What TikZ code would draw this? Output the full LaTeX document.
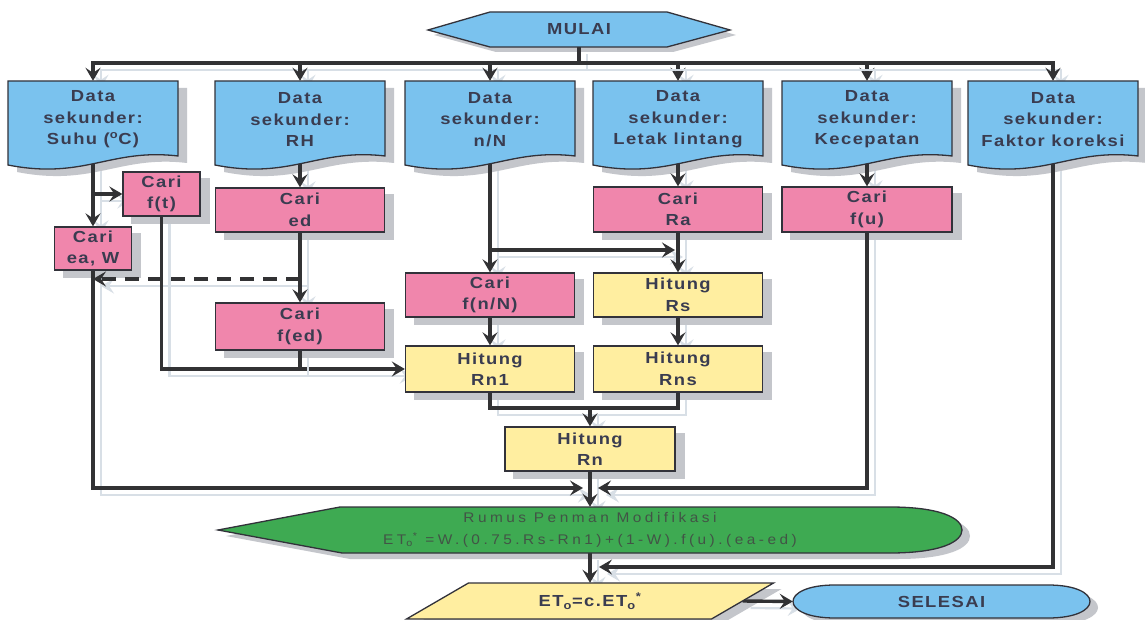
\documentclass[tikz,border=0pt]{standalone}
\usepackage{fontspec}
\setmainfont{Liberation Sans}
\newfontfamily\bxfont[FakeStretch=1.15,LetterSpace=9]{Liberation Sans}
\newfontfamily\grfont[FakeStretch=1.1,LetterSpace=25]{Liberation Sans}
\usetikzlibrary{arrows.meta,calc}
\definecolor{bluef}{RGB}{122,194,238}
\definecolor{pinkf}{RGB}{240,134,172}
\definecolor{yelf}{RGB}{255,238,160}
\definecolor{greenf}{RGB}{62,170,82}
\definecolor{txt}{RGB}{58,60,80}
\definecolor{edge}{RGB}{50,50,58}
\definecolor{connc}{RGB}{50,50,52}
\definecolor{shd}{RGB}{196,198,203}
\definecolor{lsh}{RGB}{216,223,230}
\definecolor{gtxt}{RGB}{66,84,70}
\pgfdeclarelayer{bgl}
\pgfdeclarelayer{shl}
\pgfdeclarelayer{cnl}
\pgfsetlayers{bgl,shl,cnl,main}
\tikzset{
  boxtext/.style={font=\bxfont\bfseries\fontsize{16}{21.5}\selectfont, text=txt, align=center},
  shapeline/.style={draw=edge, line width=1.3pt},
  procbox/.style={boxtext, shapeline, inner sep=0pt},
  pinkbox/.style={procbox, fill=pinkf},
  yelbox/.style={procbox, fill=yelf},
  conn/.style={draw=connc, line width=3.4pt,
    preaction={draw=lsh, line width=2.2pt, transform canvas={xshift=8pt,yshift=-7pt}}},
  arr/.style={conn, -{Stealth[length=13pt,width=15pt,inset=5pt]}},
}
\newcommand\mydatabox[3]{%
  \begin{pgfonlayer}{shl}
  \fill[shd,shift={(#2+9,7)}] (-85,81) -- (85,81) -- (85,156) .. controls (17,148) and (-8.5,180) .. (-85,165) -- cycle;
  \end{pgfonlayer}
  \draw[shapeline,fill=bluef,shift={(#2,0)}] (-85,81) -- (85,81) -- (85,156) .. controls (17,148) and (-8.5,180) .. (-85,165) -- cycle;
  \node[inner sep=0pt, minimum width=170pt, minimum height=83pt] (#1) at (#2,122.5) {};
  \node[boxtext] (#1t) at (#2,119.5) {#3};
}
\begin{document}
\begin{tikzpicture}[x=1pt,y=-1pt]
\begin{pgfonlayer}{bgl}
\fill[white] (0,0) rectangle (1145,620);
\end{pgfonlayer}
\useasboundingbox (0,0) rectangle (1145,620);

% start
\begin{pgfonlayer}{shl}
\fill[shd] (434,35) -- (496,17) -- (673,17) -- (736,35) -- (673,52) -- (496,52) -- cycle;
\end{pgfonlayer}
\draw[shapeline, fill=bluef] (428,30) -- (490,12) -- (667,12) -- (730,30) -- (667,47) -- (490,47) -- cycle;
\node[boxtext, minimum width=302pt, minimum height=35pt, inner sep=0pt] (start) at (579,29.5) {MULAI};

% data boxes
\mydatabox{d1}{93}{Data\\sekunder:\\Suhu (\textsuperscript{o}C)}
\mydatabox{d2}{300}{Data\\sekunder:\\RH}
\mydatabox{d3}{490}{Data\\sekunder:\\n/N}
\mydatabox{d4}{678}{Data\\sekunder:\\Letak lintang}
\mydatabox{d5}{867}{Data\\sekunder:\\Kecepatan}
\mydatabox{d6}{1053}{Data\\sekunder:\\Faktor koreksi}

% process boxes
\node[pinkbox, minimum width=77pt, minimum height=44pt] (ft) at (161.5,194) {Cari\\f(t)};
\node[pinkbox, minimum width=169pt, minimum height=44pt] (ed) at (300,210) {Cari\\ed};
\node[pinkbox, minimum width=77pt, minimum height=43pt] (eaw) at (93,248.5) {Cari\\ea, W};
\node[pinkbox, minimum width=169pt, minimum height=47pt] (fed) at (300,326.5) {Cari\\f(ed)};
\node[pinkbox, minimum width=169pt, minimum height=45pt] (ra) at (678,209.5) {Cari\\Ra};
\node[pinkbox, minimum width=170pt, minimum height=45pt] (fu) at (867,209.5) {Cari\\f(u)};
\node[pinkbox, minimum width=169pt, minimum height=44pt] (fnN) at (490,295) {Cari\\f(n/N)};
\node[yelbox, minimum width=169pt, minimum height=44pt] (rs) at (678,295) {Hitung\\Rs};
\node[yelbox, minimum width=169pt, minimum height=46pt] (rn1) at (490,369) {Hitung\\Rn1};
\node[yelbox, minimum width=169pt, minimum height=46pt] (rns) at (678,369) {Hitung\\Rns};
\node[yelbox, minimum width=170pt, minimum height=44pt] (rn) at (590,449) {Hitung\\Rn};
\begin{pgfonlayer}{shl}
\foreach \n in {ft,ed,eaw,fed,ra,fu,fnN,rs,rn1,rns,rn}
  \fill[shd] ([shift={(9,7)}]\n.north west) rectangle ([shift={(9,7)}]\n.south east);
\end{pgfonlayer}

% green formula
\begin{pgfonlayer}{shl}
\fill[shd,shift={(8,6)}] (218,530) -- (340,507) -- (890,507) .. controls (940,507) and (962,518) .. (962,530) .. controls (962,542) and (940,553) .. (890,553) -- (342,553) -- cycle;
\end{pgfonlayer}
\draw[shapeline, fill=greenf] (218,530) -- (340,507) -- (890,507) .. controls (940,507) and (962,518) .. (962,530) .. controls (962,542) and (940,553) .. (890,553) -- (342,553) -- cycle;
\node[font=\grfont\fontsize{14}{22}\selectfont, text=gtxt, align=center, inner sep=0pt, minimum width=700pt, minimum height=46pt] (green) at (590,530)
  {Rumus Penman Modifikasi\\ET\textsubscript{o}\textsuperscript{*} =W.(0.75.Rs-Rn1)+(1-W).f(u).(ea-ed)};

% parallelogram
\begin{pgfonlayer}{shl}
\fill[shd,shift={(8,6)}] (468.5,583) -- (773.5,583) -- (711.5,619) -- (406.5,619) -- cycle;
\end{pgfonlayer}
\draw[shapeline, fill=yelf] (468.5,583) -- (773.5,583) -- (711.5,619) -- (406.5,619) -- cycle;
\node[boxtext, inner sep=0pt, minimum width=305pt, minimum height=36pt] (eto) at (590,601)
  {ET\textsubscript{o}=c.ET\textsubscript{o}\textsuperscript{*}};

% end
\begin{pgfonlayer}{shl}
\fill[shd,shift={(8,6)}] (835,585) -- (1048,585) .. controls (1104,585) and (1104,618) .. (1048,618) -- (835,618) .. controls (779,618) and (779,585) .. (835,585) -- cycle;
\end{pgfonlayer}
\draw[shapeline, fill=bluef] (835,585) -- (1048,585) .. controls (1104,585) and (1104,618) .. (1048,618) -- (835,618) .. controls (779,618) and (779,585) .. (835,585) -- cycle;
\node[boxtext, inner sep=0pt, minimum width=297pt, minimum height=33pt] (end) at (941.5,601.5) {SELESAI};

% helper coordinates
\coordinate (bus) at (579,63);
\coordinate (jl) at (583,488);
\coordinate (jr) at (598,488);
\coordinate (jk) at (599,567);
\coordinate (dsh) at (0,279);
\coordinate (brn) at (0,250);
\coordinate (rsin) at (675,250);
\coordinate (rj) at (0,408);

% connectors
\begin{pgfonlayer}{cnl}
\draw[conn] (start.south) -- (bus);
\foreach \n in {d1,d2,d3,d4,d5,d6} \draw[arr] (bus) -| (\n.north);
\draw[arr] (d1.south) -- (eaw.north);
\draw[arr] (d1.south |- ft.west) -- (ft.west);
\draw[arr] (eaw.south) |- (jl);
\draw[arr, dash pattern=on 14pt off 9pt] (ed.south |- dsh) -- (eaw.south |- dsh);
\draw[arr] (d2.south) -- (ed.north);
\draw[arr] (ed.south) -- (fed.north);
\draw[arr] (ft.south) |- (rn1.west);
\draw[conn] (fed.south) -- (fed.south |- rn1.west);
\draw[arr] (d3.south) -- (fnN.north);
\draw[arr] (d3.south |- brn) -- (rsin);
\draw[arr] (d4.south) -- (ra.north);
\draw[arr] (ra.south) -- (rs.north);
\draw[arr] (fnN.south) -- (rn1.north);
\draw[arr] (rs.south) -- (rns.north);
\draw[conn] (rn1.south) -- (rn1.south |- rj) -- (rns.south |- rj) -- (rns.south);
\draw[arr] (rn.north |- rj) -- (rn.north);
\draw[arr] (rn.south) -- (green.north);
\draw[arr] (d5.south) -- (fu.north);
\draw[arr] (fu.south) |- (jr);
\draw[arr] (d6.south) |- (jk);
\draw[arr] (green.south) -- (eto.north);
\draw[arr] (eto.east) -- (end.west);
\end{pgfonlayer}
\end{tikzpicture}
\end{document}
